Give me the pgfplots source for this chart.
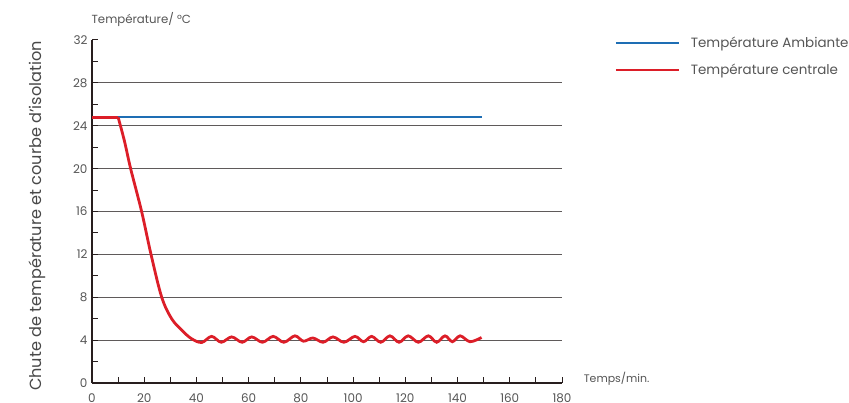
\documentclass[border=0pt]{standalone}
\usepackage{pgfplots}
\pgfplotsset{compat=1.18}
\usepackage{fontspec}
\setmainfont{Poppins}
\definecolor{tblue}{RGB}{30,110,180}
\definecolor{tred}{RGB}{220,30,40}
\definecolor{tgrid}{RGB}{95,90,90}
\definecolor{taxis}{RGB}{40,30,30}
\definecolor{ttext}{RGB}{85,85,85}
\begin{document}
\begin{tikzpicture}
\path[use as bounding box] (0,0) rectangle (849bp,403bp);
\begin{axis}[
  at={(92bp,20bp)}, anchor=south west,
  scale only axis, width=470bp, height=343bp,
  xmin=0, xmax=180, ymin=0, ymax=32,
  axis lines*=left,
  axis line style={taxis, line width=1.1bp},
  tick align=inside,
  major tick length=6bp, minor tick length=6bp,
  tick style={taxis, line width=1bp},
  xtick={0,20,...,180}, minor xtick={10,30,...,170},
  ytick={0,4,...,28}, minor ytick={2,6,...,30},
  extra y ticks={32}, extra y tick style={grid=none},
  ymajorgrids, major grid style={tgrid, line width=1bp},
  ticklabel style={font=\fontsize{12}{13}\selectfont, text=ttext},
  /pgf/number format/assume math mode=true,
  xticklabel style={yshift=-7bp},
  yticklabel style={xshift=-1bp},
  legend cell align=left,
  legend style={draw=none, fill=none, at={(1.106,1.022)}, anchor=north west,
    font=\fontsize{13.5}{15}\selectfont, row sep=11bp,
    /tikz/every odd column/.append style={column sep=9bp}},
  legend image code/.code={\draw[line width=1.8bp,#1] (0bp,0bp) -- (63bp,0bp);},
  clip=false,
]
\addplot[tblue, line width=2.5bp] coordinates {(0,24.8) (149.5,24.8)};
\addlegendentry{\textcolor{ttext}{Température Ambiante}}
\addplot[tred, line width=2.8bp, smooth, tension=0.55] coordinates {
(10,24.8) (12.4,22.6) (14.8,20) (19,16) (22.6,12) (26.7,8) (30.5,6) (34.3,4.95) (38,4.15) (42,3.78)
(45.8,4.35) (49.5,3.8) (53.5,4.3) (57.5,3.8) (61.2,4.3) (65.3,3.8) (69.4,4.35) (73.5,3.8)
(77.7,4.4) (81,3.9) (84.6,4.2) (88.5,3.8) (92.3,4.3) (96.5,3.8) (100.7,4.35) (104,3.85)
(107.1,4.35) (110.6,3.8) (114.1,4.4) (117.6,3.8) (121.1,4.4) (125,3.8) (128.8,4.4) (132,3.8)
(135.2,4.4) (138,3.85) (141,4.4) (144.8,3.85) (149.2,4.25)};
\addlegendentry{\textcolor{ttext}{Température centrale}}
\addplot[tred, line width=2.8bp, forget plot] coordinates {(0,24.8) (10,24.8)};
\node[anchor=base west, font=\fontsize{11.8}{13}\selectfont, text=ttext] at (axis cs:-1.5,33.55) {Température/ °C};
\node[anchor=base west, font=\fontsize{11}{12}\selectfont, text=ttext] at (axis cs:187,0.05) {Temps/min.};
\node[rotate=90, font=\fontsize{16.2}{18}\selectfont, text=ttext!85!black] at (axis description cs:-0.117,0.487) {Chute de température et courbe d’isolation};
\end{axis}
\end{tikzpicture}
\end{document}
